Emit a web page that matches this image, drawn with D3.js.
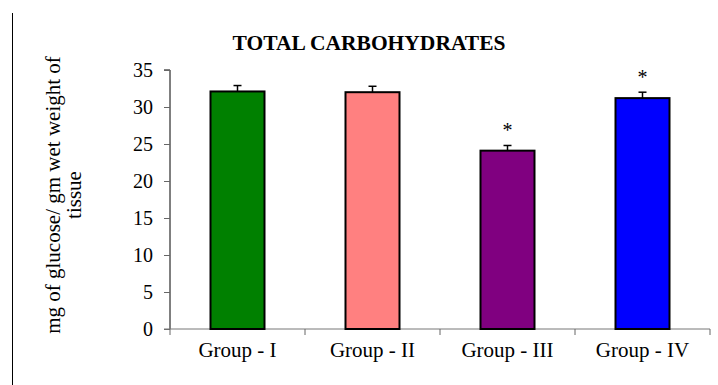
<!DOCTYPE html>
<html>
<head>
<meta charset="utf-8">
<script src="https://cdn.jsdelivr.net/npm/d3@7"></script>
<style>
  html, body { margin: 0; padding: 0; background: #fff; }
  svg { display: block; }
</style>
</head>
<body>
<svg id="chart" width="718" height="385"></svg>
<script>
const categories = ["Group - I", "Group - II", "Group - III", "Group - IV"];
const values = [32.1, 32.0, 24.1, 31.2];
const errors = [0.8, 0.8, 0.7, 0.8];
const marks = ["", "", "*", "*"];
const colors = ["#008000", "#FF8080", "#800080", "#0000FF"];
const yTicks = [0, 5, 10, 15, 20, 25, 30, 35];
const title = "TOTAL CARBOHYDRATES";
const yLabelLines = ["mg of glucose/ gm wet weight of", "tissue"];

const svg = d3.select("#chart");
const serif = "Liberation Serif, Times New Roman, serif";

const x = d3.scaleBand().domain(categories).range([170, 710]).paddingInner(0.6).paddingOuter(0.3);
const xb = d3.scaleBand().domain(categories).range([170, 710]).padding(0);
const y = d3.scaleLinear().domain([0, 35]).range([329, 70]);

// left border line
svg.append("line").attr("x1", 12.5).attr("x2", 12.5).attr("y1", 13).attr("y2", 385)
  .attr("stroke", "#000").attr("stroke-width", 1);

// title
svg.append("text").attr("x", 369).attr("y", 50).attr("text-anchor", "middle")
  .style("font-family", serif).attr("font-weight", "bold").attr("font-size", 21.5)
  .text(title);

// y label
const yl = svg.append("text").attr("transform", "translate(0,195) rotate(-90)")
  .attr("text-anchor", "middle").style("font-family", serif).attr("font-size", 21).attr("fill", "#000");
yLabelLines.forEach((t, i) => {
  yl.append("tspan").attr("x", 0).attr("y", 60 + i * 21).text(t);
});

// y axis
const yAxis = svg.append("g").attr("transform", "translate(170,0)")
  .call(d3.axisLeft(y).tickValues(yTicks).tickSize(6).tickPadding(11));
yAxis.select(".domain").attr("stroke", "#000").attr("d", `M-6,${y(35)}H0V${y(0)}`);
yAxis.selectAll(".tick line").attr("stroke", "#666");
yAxis.selectAll("text").style("font-family", serif).attr("font-size", 20).attr("fill", "#000");

// x axis
const xAxis = svg.append("g").attr("transform", `translate(0,${y(0)})`);
xAxis.append("line").attr("x1", 164).attr("x2", 710).attr("y1", 0).attr("y2", 0).attr("stroke", "#777");
xAxis.selectAll("line.tk").data(categories.concat(["__end"])).join("line")
  .attr("class", "tk")
  .attr("x1", (d, i) => i < categories.length ? xb(d) : xb.range()[1])
  .attr("x2", (d, i) => i < categories.length ? xb(d) : xb.range()[1])
  .attr("y1", 0).attr("y2", 6).attr("stroke", "#666");
xAxis.selectAll("text").data(categories).join("text")
  .attr("x", d => xb(d) + xb.bandwidth() / 2).attr("y", 28)
  .attr("text-anchor", "middle").style("font-family", serif).attr("font-size", 21).attr("fill", "#000")
  .text(d => d);

// bars
svg.selectAll("rect.bar").data(categories).join("rect").attr("class", "bar")
  .attr("x", d => x(d)).attr("width", x.bandwidth())
  .attr("y", (d, i) => y(values[i])).attr("height", (d, i) => y(0) - y(values[i]))
  .attr("fill", (d, i) => colors[i]).attr("stroke", "#000").attr("stroke-width", 2);

// error bars
const eb = svg.selectAll("g.err").data(categories).join("g").attr("class", "err");
eb.append("line")
  .attr("x1", d => x(d) + x.bandwidth() / 2).attr("x2", d => x(d) + x.bandwidth() / 2)
  .attr("y1", (d, i) => y(values[i])).attr("y2", (d, i) => y(values[i] + errors[i]))
  .attr("stroke", "#000").attr("stroke-width", 1.5);
eb.append("line")
  .attr("x1", d => x(d) + x.bandwidth() / 2 - 4).attr("x2", d => x(d) + x.bandwidth() / 2 + 4)
  .attr("y1", (d, i) => y(values[i] + errors[i])).attr("y2", (d, i) => y(values[i] + errors[i]))
  .attr("stroke", "#000").attr("stroke-width", 1.5);

// significance marks
svg.selectAll("text.sig").data(categories).join("text").attr("class", "sig")
  .attr("x", d => x(d) + x.bandwidth() / 2)
  .attr("y", (d, i) => y(values[i] + errors[i]) - 8)
  .attr("text-anchor", "middle").style("font-family", serif).attr("font-size", 20).attr("fill", "#000")
  .text((d, i) => marks[i]);
</script>
</body>
</html>
